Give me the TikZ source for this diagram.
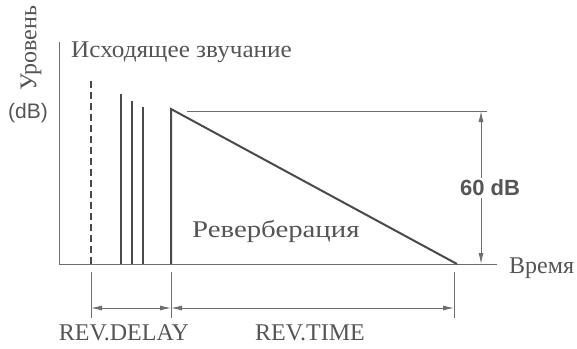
\documentclass[tikz,border=0pt]{standalone}
\usepackage{fontspec}
\usepackage{graphicx}
\setmainfont{Liberation Serif}
\newfontfamily\lsans{Liberation Sans}
\usetikzlibrary{arrows.meta}
\definecolor{ink}{HTML}{4A4A4A}
\definecolor{txt}{HTML}{555555}
\begin{document}
\begin{tikzpicture}[x=1pt,y=-1pt,
  thick line/.style={draw=ink,line width=2pt},
  thin line/.style={draw=ink!80,line width=0.9pt},
  dimarrow/.style={draw=ink!80,line width=0.9pt,{Latex[length=11pt,width=5pt]}-{Latex[length=11pt,width=5pt]}},
  lbl/.style={text=txt,inner sep=0pt,font=\fontsize{24}{27}\selectfont}
  ]
\useasboundingbox (0,0) rectangle (577,348);
% axes
\coordinate (ytop) at (59,42);
\coordinate (origin) at (59,264);
\coordinate (xend) at (497,264);
\draw[thin line] (ytop) -- (origin) -- (xend);
% dashed direct sound
\coordinate (d0) at (91,264);
\coordinate (d1) at (91,78);
\draw[thick line,dash pattern=on 7pt off 4pt] (d0) -- (d1);
% early reflections
\coordinate (e1b) at (121,264); \coordinate (e1t) at (121,94);
\coordinate (e2b) at (132,264); \coordinate (e2t) at (132,101);
\coordinate (e3b) at (143,264); \coordinate (e3t) at (143,107);
\draw[thick line] (e1b) -- (e1t);
\draw[thick line] (e2b) -- (e2t);
\draw[thick line] (e3b) -- (e3t);
% reverberation
\coordinate (r0) at (171,264);
\coordinate (rtop) at (171,109);
\coordinate (rend) at (457,264);
\draw[thick line,line join=miter] (r0) -- (rtop) -- (rend);
% 60 dB reference
\coordinate (h0) at (187,111);
\coordinate (h1) at (487,111);
\draw[thin line] (h0) -- (h1);
\coordinate (a0) at (481,111);
\coordinate (a1) at (481,264);
\draw[dimarrow] (a0) -- (a1);
\node[lbl,fill=white,inner sep=2pt,font=\lsans\bfseries\fontsize{22}{25}\selectfont] (db) at (490,188) {60 dB};
% lower ticks
\coordinate (t1a) at (91,272); \coordinate (t1b) at (91,318);
\coordinate (t2a) at (171,272); \coordinate (t2b) at (171,318);
\coordinate (t3a) at (454,272); \coordinate (t3b) at (454,318);
\draw[thin line] (t1a) -- (t1b);
\draw[thin line] (t2a) -- (t2b);
\draw[thin line] (t3a) -- (t3b);
\coordinate (m1) at (91,308); \coordinate (m2) at (171,308); \coordinate (m3) at (454,308);
\draw[dimarrow] (m1) -- (m2);
\draw[dimarrow] (m2) -- (m3);
% labels
\node[lbl,anchor=west] (src) at (71,52) {\scalebox{1.05}[1]{Исходящее звучание}};
\node[lbl,anchor=west] (rev) at (192,231) {\scalebox{1.2}[1]{Реверберация}};
\node[lbl,anchor=west] (time) at (509,268) {Время};
\node[lbl] (delay) at (124,333) {REV.DELAY};
\node[lbl] (rtime) at (310,333) {REV.TIME};
\node[lbl,rotate=90] (lvl) at (31,48) {Уровень};
\node[lbl,font=\lsans\fontsize{21}{24}\selectfont] (dbu) at (28,113) {(dB)};
\end{tikzpicture}
\end{document}
